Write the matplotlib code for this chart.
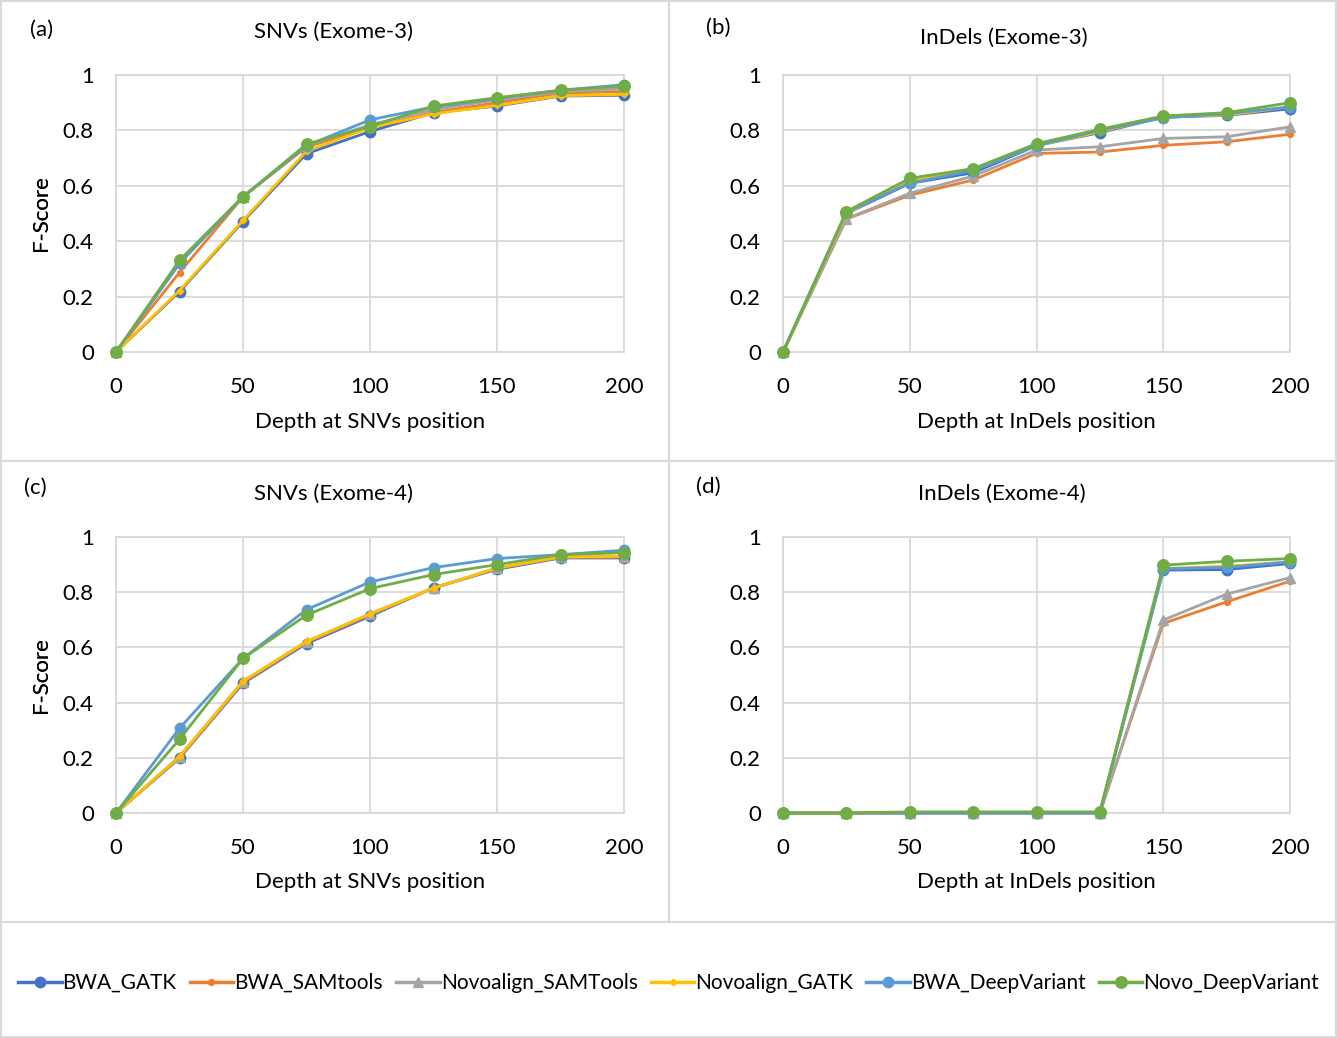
import numpy as np
import matplotlib
matplotlib.use('Agg')
import matplotlib.pyplot as plt
from matplotlib.lines import Line2D
from matplotlib.patches import Rectangle

plt.rcParams['font.family'] = ['Lato', 'DejaVu Sans']

# depth values (x) shared by all panels
depth = [0, 25, 50, 75, 100, 125, 150, 175, 200]

series_names = ['BWA_GATK', 'BWA_SAMtools', 'Novoalign_SAMTools',
                'Novoalign_GATK', 'BWA_DeepVariant', 'Novo_DeepVariant']

# (a) SNVs Exome-3
snv3_bwa_gatk = [0, 0.218, 0.471, 0.716, 0.796, 0.864, 0.888, 0.924, 0.927]
snv3_bwa_samtools = [0, 0.287, 0.56, 0.74, 0.81, 0.865, 0.90, 0.935, 0.94]
snv3_novo_samtools = [0, 0.32, 0.56, 0.745, 0.82, 0.875, 0.91, 0.94, 0.95]
snv3_novo_gatk = [0, 0.222, 0.475, 0.725, 0.81, 0.86, 0.89, 0.925, 0.93]
snv3_bwa_dv = [0, 0.32, 0.56, 0.745, 0.838, 0.885, 0.915, 0.945, 0.965]
snv3_novo_dv = [0, 0.331, 0.561, 0.75, 0.814, 0.888, 0.918, 0.945, 0.96]

# (b) InDels Exome-3
ind3_bwa_gatk = [0, 0.50, 0.609, 0.647, 0.745, 0.792, 0.848, 0.854, 0.878]
ind3_bwa_samtools = [0, 0.48, 0.566, 0.621, 0.717, 0.722, 0.746, 0.759, 0.786]
ind3_novo_samtools = [0, 0.481, 0.573, 0.635, 0.729, 0.741, 0.771, 0.777, 0.813]
ind3_novo_gatk = [0, 0.50, 0.62, 0.66, 0.745, 0.795, 0.85, 0.855, 0.885]
ind3_bwa_dv = [0, 0.505, 0.61, 0.655, 0.745, 0.80, 0.845, 0.86, 0.885]
ind3_novo_dv = [0, 0.507, 0.627, 0.662, 0.752, 0.804, 0.852, 0.864, 0.90]

# (c) SNVs Exome-4
snv4_bwa_gatk = [0, 0.199, 0.47, 0.614, 0.713, 0.816, 0.883, 0.924, 0.924]
snv4_bwa_samtools = [0, 0.202, 0.474, 0.618, 0.718, 0.815, 0.886, 0.926, 0.927]
snv4_novo_samtools = [0, 0.204, 0.476, 0.62, 0.72, 0.815, 0.887, 0.927, 0.929]
snv4_novo_gatk = [0, 0.205, 0.478, 0.622, 0.722, 0.815, 0.888, 0.928, 0.93]
snv4_bwa_dv = [0, 0.307, 0.56, 0.737, 0.837, 0.889, 0.922, 0.936, 0.952]
snv4_novo_dv = [0, 0.267, 0.56, 0.717, 0.813, 0.864, 0.90, 0.936, 0.943]

# (d) InDels Exome-4
ind4_bwa_gatk = [0, 0, 0, 0, 0, 0, 0.88, 0.882, 0.904]
ind4_bwa_samtools = [0, 0, 0, 0, 0, 0, 0.687, 0.765, 0.84]
ind4_novo_samtools = [0, 0, 0, 0, 0, 0, 0.699, 0.793, 0.853]
ind4_novo_gatk = [0, 0, 0.002, 0.002, 0.002, 0.002, 0.886, 0.894, 0.91]
ind4_bwa_dv = [0, 0, 0, 0, 0, 0, 0.885, 0.89, 0.91]
ind4_novo_dv = [0, 0, 0.004, 0.004, 0.004, 0.004, 0.898, 0.912, 0.922]

panels = [
    ('(a)', 'SNVs (Exome-3)', 'Depth at SNVs position',
     [snv3_bwa_gatk, snv3_bwa_samtools, snv3_novo_samtools,
      snv3_novo_gatk, snv3_bwa_dv, snv3_novo_dv]),
    ('(b)', 'InDels (Exome-3)', 'Depth at InDels position',
     [ind3_bwa_gatk, ind3_bwa_samtools, ind3_novo_samtools,
      ind3_novo_gatk, ind3_bwa_dv, ind3_novo_dv]),
    ('(c)', 'SNVs (Exome-4)', 'Depth at SNVs position',
     [snv4_bwa_gatk, snv4_bwa_samtools, snv4_novo_samtools,
      snv4_novo_gatk, snv4_bwa_dv, snv4_novo_dv]),
    ('(d)', 'InDels (Exome-4)', 'Depth at InDels position',
     [ind4_bwa_gatk, ind4_bwa_samtools, ind4_novo_samtools,
      ind4_novo_gatk, ind4_bwa_dv, ind4_novo_dv]),
]

# Excel office palette + marker styles
styles = [
    dict(color='#4472C4', marker='o', ms=7.5),
    dict(color='#ED7D31', marker='o', ms=4.2),
    dict(color='#A5A5A5', marker='^', ms=7.0),
    dict(color='#FFC000', marker='D', ms=3.4),
    dict(color='#5B9BD5', marker='o', ms=7.5),
    dict(color='#70AD47', marker='o', ms=8.3),
]

W, H = 1337, 1038
fig = plt.figure(figsize=(W / 100, H / 100), dpi=100)

grid_col = '#d9d9d9'
txt_col = '#000000'
fs = 16

# axes boxes in pixels: (left, right, top, bottom)
boxes = [(116, 624, 75, 352), (783, 1290, 75, 352),
         (116, 624, 537, 813), (783, 1290, 537, 813)]
label_pos = [(42, 30), (718, 28), (35, 488), (708, 487)]
title_pos = [(334, 32), (1004, 38), (334, 494), (1002, 494)]

for i, (tag, title, xlabel, data) in enumerate(panels):
    l, r, t, b = boxes[i]
    ax = fig.add_axes([l / W, 1 - b / H, (r - l) / W, (b - t) / H])
    for vals, st in zip(data, styles):
        ax.plot(depth, vals, color=st['color'], lw=2.0, marker=st['marker'],
                ms=st['ms'], mec=st['color'], mfc=st['color'], clip_on=False,
                zorder=3)
    ax.set_xlim(0, 200)
    ax.set_ylim(0, 1)
    ax.set_xticks([0, 50, 100, 150, 200])
    ax.set_yticks([0, 0.2, 0.4, 0.6, 0.8, 1])
    ax.set_yticklabels(['0', '0.2', '0.4', '0.6', '0.8', '1'])
    ax.grid(True, color=grid_col, lw=1.3, zorder=0)
    for sp in ax.spines.values():
        sp.set_color(grid_col)
        sp.set_linewidth(1.3)
    ax.tick_params(axis='y', length=0, labelsize=fs, labelcolor=txt_col, pad=16)
    ax.tick_params(axis='x', length=0, labelsize=fs, labelcolor=txt_col, pad=18)
    ax.set_xlabel(xlabel, fontsize=fs, color=txt_col)
    ax.xaxis.set_label_coords(0.5, -0.215)
    ax.set_ylabel('F-Score', fontsize=fs, color=txt_col)
    ax.yaxis.set_label_coords((51 - l) / (r - l), 0.5)
    ax.set_axisbelow(True)

    fig.text(label_pos[i][0] / W, 1 - label_pos[i][1] / H, tag,
             fontsize=fs, ha='center', va='center', color=txt_col)
    fig.text(title_pos[i][0] / W, 1 - title_pos[i][1] / H, title,
             fontsize=fs, ha='center', va='center', color=txt_col)

# panel separators and outer frame
fig.add_artist(Line2D([669 / W, 669 / W], [1 - 922 / H, 1], color=grid_col, lw=1.5))
fig.add_artist(Line2D([0, 1], [1 - 461 / H, 1 - 461 / H], color=grid_col, lw=1.5))
fig.add_artist(Line2D([0, 1], [1 - 922 / H, 1 - 922 / H], color=grid_col, lw=1.5))
fig.add_artist(Rectangle((1 / W, 1 / H), 1 - 2 / W, 1 - 2 / H, fill=False,
                         ec=grid_col, lw=1.5, transform=fig.transFigure))

handles = [Line2D([], [], color=st['color'], lw=2.5, marker=st['marker'],
                  ms=st['ms'], mec=st['color'], mfc=st['color']) for st in styles]
fig.legend(handles, series_names, loc='center', ncol=6,
           bbox_to_anchor=(0.5, 1 - 983 / H), frameon=False, fontsize=15,
           handlelength=2.1, handletextpad=0.05, columnspacing=0.62,
           borderpad=0, borderaxespad=0)

fig.savefig('out.png', dpi=100)
